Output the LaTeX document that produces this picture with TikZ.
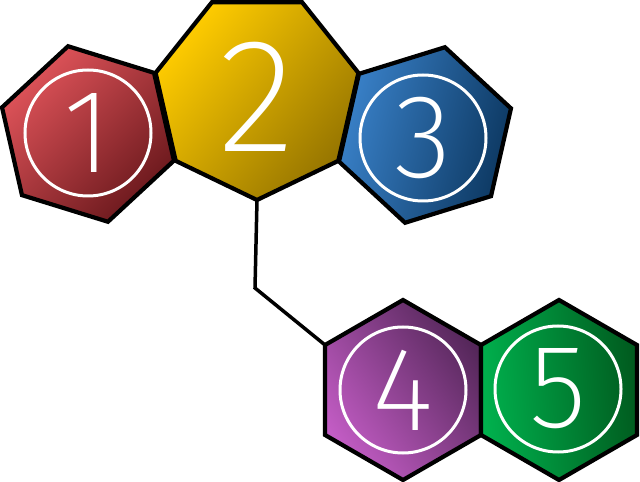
\documentclass[tikz,border=0pt]{standalone}
\usepackage{fontspec}
\usetikzlibrary{calc}
\IfFontExistsTF{Fira Sans ExtraLight}{\newfontfamily\digitfont{Fira Sans ExtraLight}}{%
  \IfFontExistsTF{Fira Sans Thin}{\newfontfamily\digitfont{Fira Sans Thin}}{%
    \IfFontExistsTF{Fira Sans Light}{\newfontfamily\digitfont{Fira Sans Light}}{%
      \newfontfamily\digitfont{Fira Sans}}}}

\definecolor{redlight}{HTML}{E0545A}
\definecolor{reddark}{HTML}{6A181C}
\definecolor{yellowlight}{HTML}{FFCC00}
\definecolor{yellowdark}{HTML}{957400}
\definecolor{bluelight}{HTML}{3A82CA}
\definecolor{bluedark}{HTML}{0C3760}
\definecolor{purplelight}{HTML}{C25CC4}
\definecolor{purpledark}{HTML}{55275A}
\definecolor{greenlight}{HTML}{00B24E}
\definecolor{greendark}{HTML}{005A1E}

\tikzset{
    tile/.style={draw=black, line width=4.2pt},
    ring/.style={circle, draw=white, line width=3pt, minimum size=126pt, inner sep=0pt,
        text=white, font=\digitfont\fontsize{119pt}{119pt}\selectfont},
    bignum/.style={inner sep=0pt, text=white, font=\digitfont\fontsize{162pt}{162pt}\selectfont}
}

\begin{document}
\begin{tikzpicture}[x=1pt, y=1pt]
        \useasboundingbox (0, 0) rectangle (640, 482);

        \coordinate (c1) at (88, 348);
        \coordinate (c2) at (257, 386);
        \coordinate (c3) at (425, 347);
        \coordinate (c4) at (403, 92);
        \coordinate (c5) at (559, 92);

        % link from the top row down to tile 4
        \coordinate (p2) at (257, 282);
        \coordinate (bend) at (255, 194);
        \coordinate (p4) at ($(c4)+(150:90)$);
        \draw[line width=3.5pt] (p2) -- (bend) -- (p4);

        \path[tile, top color=redlight, bottom color=reddark, shading angle=45, shift={(c1)}]
            (42.8:90) \foreach \k in {1,...,5} { -- (42.8+60*\k:90) } -- cycle;
        \path[tile, top color=bluelight, bottom color=bluedark, shading angle=75, shift={(c3)}]
            (17.2:90) \foreach \k in {1,...,5} { -- (17.2+60*\k:90) } -- cycle;
        \path[tile, top color=yellowlight, bottom color=yellowdark, shading angle=50, shift={(c2)}]
            (270:104) \foreach \k in {1,...,6} { -- (270+360/7*\k:104) } -- cycle;
        \path[tile, top color=purplelight, bottom color=purpledark, shading angle=125, shift={(c4)}]
            (30:90) \foreach \k in {1,...,5} { -- (30+60*\k:90) } -- cycle;
        \path[tile, top color=greenlight, bottom color=greendark, shading angle=95, shift={(c5)}]
            (30:90) \foreach \k in {1,...,5} { -- (30+60*\k:90) } -- cycle;

        \node[ring] (one) at ($(c1)+(0,1)$) {1};
        \node[bignum] (two) at ($(c2)+(0,-1)$) {2};
        \node[ring] (three) at ($(c3)+(-2,-3)$) {3};
        \node[ring] (four) at (c4) {4};
        \node[ring] (five) at ($(c5)+(-1,1)$) {5};
    \end{tikzpicture}
\end{document}
